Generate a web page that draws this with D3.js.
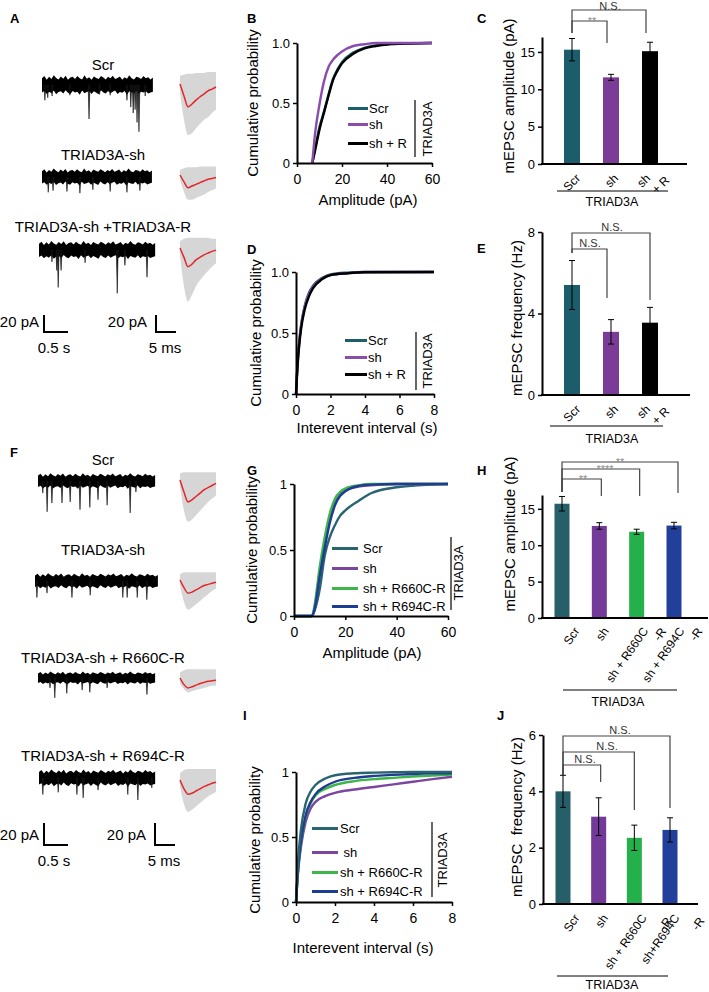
<!DOCTYPE html>
<html>
<head>
<meta charset="utf-8">
<script src="https://cdn.jsdelivr.net/npm/d3@7.9.0/dist/d3.min.js"></script>
<style>
body { margin: 0; background: #fff; }
svg { font-family: "Liberation Sans", Arial, Helvetica, sans-serif; }
.axis path, .axis line { stroke: #000; }
.axis path { stroke-width: 2; }
.axis line { stroke-width: 1.5; }
.axis text { fill: #000; font-family: "Liberation Sans", Arial, sans-serif; }
</style>
</head>
<body>
<svg id="fig" width="709" height="992"></svg>
<script>
// ---------- data ----------
// example traces (A, F): spike events [time s, amplitude pA]
const labelsA = ['Scr', 'TRIAD3A-sh', 'TRIAD3A-sh +TRIAD3A-R'];
const labelsF = ['Scr', 'TRIAD3A-sh', 'TRIAD3A-sh + R660C-R', 'TRIAD3A-sh + R694C-R'];
const durA = [2.31, 2.29, 2.42];
const durF = [2.44, 2.56, 2.44, 2.42];
const noiseA = [8.8, 7.6, 8.2];
const noiseF = [5.5, 5.5, 4.5, 6];
const spikesA = [
  [[0.06, 18], [0.12, 15], [0.21, 13], [0.58, 12], [0.98, 40], [1.2, 11], [1.42, 12], [1.77, 18], [1.85, 26], [1.9, 33], [1.94, 29], [1.98, 44], [2.02, 55], [2.15, 13]],
  [[0.13, 18], [0.23, 16], [0.52, 17], [0.79, 19], [1.06, 15], [1.42, 17], [1.77, 18], [2.04, 16]],
  [[0.27, 14], [0.37, 24], [0.4, 44], [0.46, 24], [0.96, 15], [1.63, 51], [1.79, 18], [2.25, 32]]
];
const spikesF = [
  [[0.1, 11], [0.19, 28], [0.29, 20], [0.5, 20], [0.67, 19], [0.875, 26], [1.08, 24], [1.25, 17], [1.44, 22], [1.92, 29], [2.04, 10]],
  [[0.04, 15], [0.25, 11], [0.77, 15], [1.15, 13], [1.83, 15], [1.92, 15], [2.13, 15], [2.33, 17]],
  [[0.25, 9], [0.35, 18], [0.6, 14], [0.92, 11], [1.08, 13], [1.44, 9], [2.27, 15]],
  [[0.08, 15], [0.4, 13], [0.79, 15], [0.92, 18], [1.23, 11], [1.85, 15], [2.06, 20], [2.35, 9]]
];
// baseline noise envelope (relative)
const noiseUp = [0.9,1.2,0.7,1.1,0.8,1.3,0.95,0.75,1.15,0.85,1.25,0.7,1.0,1.1,0.8,1.2,0.9,0.75,1.3,0.85,1.05,0.7,1.15,0.95,0.8,1.2,1.0,0.75,1.1,0.9,1.25,0.8,0.95,1.15,0.7,1.05,0.85,1.3,0.9,0.75,1.1,1.0,0.8,1.2,0.9,1.05,0.75,1.0];
const noiseDn = [1.0,0.8,1.2,0.9,1.1,0.75,1.25,0.95,0.85,1.15,0.7,1.05,1.2,0.8,1.0,0.9,1.3,0.75,1.1,0.95,0.8,1.2,0.85,1.05,1.25,0.7,1.0,1.15,0.8,1.1,0.9,0.75,1.2,0.95,1.05,0.8,1.3,0.85,1.0,1.1,0.75,1.2,0.9,1.0,0.85,1.15,1.0,0.9];

// averaged mEPSCs (ms, pA)
const avgT = [0, 1, 2, 3, 4, 5, 6, 7, 8, 9];
const avgMeanA = [
  [0, -14, -27, -23.5, -19, -15, -11.8, -8, -6, -3.5],
  [0, -8, -15, -13, -11, -9, -7, -5, -4, -3],
  [0, -11, -22, -19, -14, -11, -8, -6, -4, -2.5]
];
const avgHiA = [
  [10, 11, 12, 12, 13, 13, 13, 14, 14, 14],
  [6, 8, 9, 9, 9, 10, 10, 10, 10, 10],
  [8, 11, 12, 12, 12, 12, 12, 12, 11, 11]
];
const avgLoA = [
  [-10, -42, -60, -58, -52, -47, -42, -39, -34, -30],
  [-6, -20, -29, -29, -27, -25, -23, -20, -18, -16],
  [-8, -45, -63, -55, -45, -38, -32, -27, -22, -18]
];
const avgMeanF = [
  [0, -11, -20, -18, -15, -12, -9, -7, -5, -3],
  [0, -7, -12, -11, -9, -7, -5, -4, -3, -2],
  [0, -6, -9, -8, -6.5, -5, -4, -3, -2.5, -2],
  [0, -8, -13, -12, -10, -8, -6, -4.5, -3, -2]
];
const avgHiF = [
  [6, 7, 7, 7, 7, 7, 7, 7, 7, 7],
  [5, 7, 7, 7, 7, 7, 7, 7, 7, 7],
  [5, 7, 8, 8, 8, 8, 8, 8, 8, 8],
  [6, 9, 10, 10, 10, 10, 10, 10, 10, 10]
];
const avgLoF = [
  [-6, -28, -38, -36, -32, -28, -24, -20, -17, -14],
  [-5, -20, -27, -25, -22, -19, -16, -13, -10, -8],
  [-5, -10, -13, -12, -11, -10, -9, -8, -7, -7],
  [-6, -22, -29, -27, -24, -21, -18, -15, -13, -11]
];

// cumulative distributions
const ampB = [6.8, 8, 10, 12, 14, 16, 18, 20, 25, 30, 35, 40, 50, 60];
const bScr = [0, 0.12, 0.3, 0.43, 0.57, 0.7, 0.78, 0.84, 0.92, 0.96, 0.98, 0.99, 0.997, 1];
const bSh = [0, 0.24, 0.49, 0.68, 0.8, 0.86, 0.9, 0.93, 0.975, 0.99, 1, 1, 1, 1];
const bShR = [0, 0.1, 0.28, 0.42, 0.56, 0.69, 0.77, 0.83, 0.91, 0.955, 0.975, 0.988, 0.996, 1];

const intD = [0, 0.05, 0.1, 0.2, 0.3, 0.5, 0.75, 1, 1.5, 2, 3, 4, 8];
const dScr = [0, 0.15, 0.28, 0.45, 0.57, 0.72, 0.83, 0.89, 0.95, 0.98, 0.995, 1, 1];
const dSh = [0, 0.14, 0.27, 0.44, 0.56, 0.71, 0.82, 0.88, 0.945, 0.975, 0.99, 1, 1];
const dShR = [0, 0.13, 0.25, 0.42, 0.54, 0.69, 0.8, 0.87, 0.94, 0.975, 0.99, 0.998, 1];

const ampG = [0, 7, 8, 10, 12, 14, 16, 18, 20, 25, 30, 40, 50, 60];
const gScr = [0, 0, 0.04, 0.2, 0.46, 0.6, 0.69, 0.76, 0.8, 0.87, 0.93, 0.975, 0.992, 1];
const gSh = [0, 0, 0.06, 0.33, 0.55, 0.74, 0.86, 0.92, 0.95, 0.98, 0.99, 1, 1, 1];
const g660 = [0, 0, 0.08, 0.37, 0.6, 0.78, 0.89, 0.94, 0.965, 0.99, 1, 1, 1, 1];
const g694 = [0, 0, 0.05, 0.3, 0.52, 0.71, 0.84, 0.91, 0.945, 0.985, 0.995, 1, 1, 1];

const intI = [0, 0.1, 0.25, 0.5, 0.75, 1, 1.5, 2, 3, 4, 5, 6, 7, 8];
const iScr = [0, 0.3, 0.55, 0.76, 0.85, 0.9, 0.95, 0.975, 0.99, 0.995, 0.998, 1, 1, 1];
const iSh = [0, 0.22, 0.42, 0.62, 0.72, 0.77, 0.815, 0.84, 0.865, 0.885, 0.905, 0.925, 0.945, 0.963];
const i660 = [0, 0.23, 0.45, 0.66, 0.76, 0.82, 0.87, 0.9, 0.93, 0.945, 0.955, 0.965, 0.973, 0.98];
const i694 = [0, 0.24, 0.46, 0.67, 0.77, 0.83, 0.89, 0.925, 0.955, 0.97, 0.978, 0.985, 0.99, 0.99];

const legend3 = ['Scr', 'sh', 'sh + R'];
const legend4 = ['Scr', 'sh', 'sh + R660C-R', 'sh + R694C-R'];
const legend4I = ['Scr', ' sh', 'sh + R660C-R', 'sh + R694C-R'];

// bar charts
const cats3 = ['Scr', 'sh', 'shR'];
const cats4 = ['Scr', 'sh', 'R660C', 'R694C'];
const ampC = [15.3, 11.6, 15.1], ampCErr = [1.5, 0.4, 1.2];
const freqE = [5.4, 3.1, 3.55], freqEErr = [1.2, 0.6, 0.75];
const ampH = [15.7, 12.65, 11.85, 12.7], ampHErr = [1.0, 0.45, 0.35, 0.45];
const freqJ = [4.0, 3.1, 2.35, 2.63], freqJErr = [0.57, 0.67, 0.45, 0.43];
const ticksC = [0, 5, 10, 15], ticksE = [0, 4, 8], ticksH = [0, 5, 10, 15], ticksJ = [0, 2, 4, 6];
const xLab3 = [['Scr'], ['sh'], ['sh', '+ R']];
const xLabH = [['Scr'], ['sh'], ['sh + R660C', '-R'], ['sh + R694C', '-R']];
const xLabJ = [['Scr'], ['sh'], ['sh + R660C', '-R'], ['sh+R694C', '-R']];
const sigC = ['**', 'N.S.'];
const sigE = ['N.S.', 'N.S.'];
const sigH = ['**', '****', '**'];
const sigJ = ['N.S.', 'N.S.', 'N.S.'];

// ---------- drawing ----------
const svg = d3.select('#fig');
const teal = '#1d5e6c', teal2 = '#2a6470', purple = '#8a4dab', purple2 = '#7b46a0', green = '#3cb64b', blue = '#1f3c93';

function txt(x, y, s, size, o = {}) {
  return svg.append('text').attr('x', x).attr('y', y)
    .attr('font-size', size)
    .attr('text-anchor', o.anchor || 'start')
    .attr('font-weight', o.bold ? 'bold' : null)
    .attr('fill', o.fill || '#000')
    .style('white-space', 'pre')
    .attr('transform', o.rot ? `rotate(${o.rot},${x},${y})` : null)
    .text(s);
}

// panel letters
[['A', 10, 23], ['B', 247, 23], ['C', 477, 23], ['D', 247, 254], ['E', 477, 253],
 ['F', 10, 457], ['G', 247, 475], ['H', 477, 475], ['I', 243, 720], ['J', 497, 720]]
  .forEach(([l, x, y]) => txt(x, y, l, 13, { bold: true }));

// --- traces ---
const tSec = d3.scaleLinear().domain([0, 0.5]).range([0, 24]);
const tMs = d3.scaleLinear().domain([0, 5]).range([0, 20]);
const yA = d3.scaleLinear().domain([-20, 0]).range([17, 0]);
const yF = d3.scaleLinear().domain([-20, 0]).range([22, 0]);

function drawTrace(x0, base, dur, noise, spikes, yS) {
  const xi = d3.scaleLinear().domain([0, noiseUp.length - 1]).range([0, dur]);
  const area = d3.area()
    .x((d, i) => x0 + tSec(xi(i)))
    .y0((d, i) => base + yS(-noise * noiseDn[i]))
    .y1((d, i) => base + yS(noise * noiseUp[i]));
  svg.append('path').datum(noiseUp).attr('d', area).attr('fill', '#000');
  spikes.forEach(([t, a]) => {
    const x = x0 + tSec(t);
    svg.append('path')
      .attr('d', `M${x - 0.9},${base}L${x},${base + yS(-a)}L${x + 0.9},${base}Z`)
      .attr('fill', '#111').attr('stroke', '#111').attr('stroke-width', 0.6);
  });
}

function drawAvg(x0, base, mean, hi, lo, yS) {
  const band = d3.area().curve(d3.curveMonotoneX)
    .x((d, i) => x0 + tMs(avgT[i]))
    .y0((d, i) => base + yS(lo[i]))
    .y1((d, i) => base + yS(hi[i]));
  svg.append('path').datum(avgT).attr('d', band).attr('fill', '#d6d6d6');
  const line = d3.line().curve(d3.curveMonotoneX)
    .x((d, i) => x0 + tMs(avgT[i]))
    .y(d => base + yS(d));
  svg.append('path').datum(mean).attr('d', line)
    .attr('fill', 'none').attr('stroke', '#e3262b').attr('stroke-width', 1.5);
}

function scaleBars(x1, x2, y, yS) {
  const h = yS(-20);
  svg.append('path').attr('d', `M${x1},${y - h}V${y}H${x1 + tSec(0.5)}`)
    .attr('fill', 'none').attr('stroke', '#000').attr('stroke-width', 2);
  svg.append('path').attr('d', `M${x2},${y - h}V${y}H${x2 + tMs(5)}`)
    .attr('fill', 'none').attr('stroke', '#000').attr('stroke-width', 2);
  txt(x1 - 5, y - 5, '20 pA', 15, { anchor: 'end' });
  txt(x2 - 9, y - 5, '20 pA', 15, { anchor: 'end' });
  txt(x1 + 10, y + 21, '0.5 s', 15, { anchor: 'middle' });
  txt(x2 + 9, y + 21, '5 ms', 15, { anchor: 'middle' });
}

const rowsA = [{ x0: 42, base: 85, ab: 84, ly: 70 }, { x0: 42, base: 177, ab: 175, ly: 160 }, { x0: 39, base: 250, ab: 248, ly: 232 }];
rowsA.forEach((r, i) => {
  txt(103, r.ly, labelsA[i], 15, { anchor: 'middle' });
  drawTrace(r.x0, r.base, durA[i], noiseA[i], spikesA[i], yA);
  drawAvg(180, r.ab, avgMeanA[i], avgHiA[i], avgLoA[i], yA);
});
scaleBars(44, 156, 332, yA);

const rowsF = [{ x0: 38, base: 481, ab: 480, ly: 465 }, { x0: 35, base: 581, ab: 580, ly: 555 },
  { x0: 38, base: 678, ab: 678, ly: 663 }, { x0: 39, base: 778, ab: 780, ly: 761 }];
rowsF.forEach((r, i) => {
  txt(103, r.ly, labelsF[i], 15, { anchor: 'middle' });
  drawTrace(r.x0, r.base, durF[i], noiseF[i], spikesF[i], yF);
  drawAvg(180, r.ab, avgMeanF[i], avgHiF[i], avgLoF[i], yF);
});
scaleBars(44, 155, 845, yF);

// --- cumulative panels ---
function cdfPanel(o) {
  const x = d3.scaleLinear().domain(o.xDom).range(o.xR);
  const y = d3.scaleLinear().domain([0, 1]).range(o.yR);
  const line = d3.line().curve(d3.curveMonotoneX).x((d, j) => x(o.xs[j])).y(d => y(d));
  o.draw.forEach(i => {
    svg.append('path').datum(o.series[i]).attr('d', line)
      .attr('fill', 'none').attr('stroke', o.colors[i]).attr('stroke-width', 2.4);
  });
  const xa = svg.append('g').attr('class', 'axis').attr('transform', `translate(0,${o.yR[0]})`)
    .call(d3.axisBottom(x).tickValues(o.xTicks).tickFormat(d3.format('d')).tickSize(4).tickPadding(7).tickSizeOuter(0));
  xa.selectAll('text').attr('font-size', 14);
  const ya = svg.append('g').attr('class', 'axis').attr('transform', `translate(${o.xR[0]},0)`)
    .call(d3.axisLeft(y).tickValues([0, 0.5, 1]).tickFormat(o.yFmt).tickSize(4).tickPadding(3).tickSizeOuter(0));
  ya.selectAll('text').attr('font-size', 13);
  txt(o.xt[0], o.xt[1], o.xTitle, 15, { anchor: 'middle' });
  txt(o.yt[0], o.yt[1], 'Cumulative probability', 15, { anchor: 'middle', rot: -90 });
  o.legend.forEach((l, i) => {
    const yy = o.lg.rows[i];
    svg.append('line').attr('x1', o.lg.x1).attr('x2', o.lg.x2).attr('y1', yy - 4.5).attr('y2', yy - 4.5)
      .attr('stroke', o.colors[i]).attr('stroke-width', 3);
    txt(o.lg.tx, yy, l, 13);
  });
  svg.append('line').attr('x1', o.bar[0]).attr('x2', o.bar[0]).attr('y1', o.bar[1]).attr('y2', o.bar[2])
    .attr('stroke', '#000').attr('stroke-width', 1.2);
  txt(o.tri[0], o.tri[1], 'TRIAD3A', 13, { anchor: 'middle', rot: -90 });
}

const fmt1 = d => d === 0 ? '0' : d3.format('.1f')(d);
const fmt2 = d => d === 0.5 ? '0.5' : String(d);

cdfPanel({ xs: ampB, xDom: [0, 60], xR: [297, 432], yR: [163, 43], xTicks: [0, 20, 40, 60], yFmt: fmt1,
  series: [bScr, bSh, bShR], draw: [0, 2, 1], colors: [teal, purple, '#000'], legend: legend3,
  xTitle: 'Amplitude (pA)', xt: [368, 205], yt: [258, 103],
  lg: { rows: [113, 129, 148], x1: 348, x2: 368, tx: 369 }, bar: [415, 100, 157], tri: [432, 129] });

cdfPanel({ xs: intD, xDom: [0, 8], xR: [296, 434], yR: [394, 272], xTicks: [0, 2, 4, 6, 8], yFmt: fmt1,
  series: [dScr, dSh, dShR], draw: [0, 1, 2], colors: [teal, purple, '#000'], legend: legend3,
  xTitle: 'Interevent interval (s)', xt: [367, 433], yt: [261, 333],
  lg: { rows: [345, 362, 379], x1: 345, x2: 367, tx: 368 }, bar: [416, 332, 390], tri: [432, 361] });

cdfPanel({ xs: ampG, xDom: [0, 60], xR: [294, 448], yR: [616, 484], xTicks: [0, 20, 40, 60], yFmt: fmt2,
  series: [gScr, gSh, g660, g694], draw: [0, 1, 2, 3], colors: [teal2, purple2, green, blue], legend: legend4,
  xTitle: 'Amplitude (pA)', xt: [372, 658], yt: [257, 550],
  lg: { rows: [553, 573, 593, 611], x1: 332, x2: 358, tx: 363 }, bar: [451, 537, 610], tri: [463, 573] });

cdfPanel({ xs: intI, xDom: [0, 8], xR: [296, 452], yR: [902, 772], xTicks: [0, 2, 4, 6, 8], yFmt: fmt2,
  series: [iScr, iSh, i660, i694], draw: [1, 2, 3, 0], colors: [teal2, purple2, green, blue], legend: legend4I,
  xTitle: 'Interevent interval (s)', xt: [363, 953], yt: [260, 840],
  lg: { rows: [833, 857, 877, 896], x1: 312, x2: 338, tx: 340 }, bar: [432, 822, 897], tri: [447, 860] });

// --- bar panels ---
function barPanel(o) {
  const x = d3.scalePoint().domain(o.cats).range(o.xR);
  const y = d3.scaleLinear().domain(o.yDom).range(o.yR);
  o.cats.forEach((c, i) => {
    const cx = x(c), v = o.vals[i], e = o.errs[i];
    svg.append('rect').attr('x', cx - o.bw / 2).attr('y', y(v)).attr('width', o.bw)
      .attr('height', y(0) - y(v)).attr('fill', o.colors[i]);
    svg.append('path')
      .attr('d', `M${cx},${y(v - e)}V${y(v + e)}M${cx - 3},${y(v + e)}H${cx + 3}M${cx - 3},${y(v - e)}H${cx + 3}`)
      .attr('stroke', '#000').attr('stroke-width', 1).attr('fill', 'none');
  });
  const ya = svg.append('g').attr('class', 'axis').attr('transform', `translate(${o.ax},0)`)
    .call(d3.axisLeft(y).tickValues(o.ticks).tickFormat(d3.format('d')).tickSize(4).tickPadding(3).tickSizeOuter(0));
  ya.selectAll('text').attr('font-size', 13);
  svg.append('line').attr('x1', o.ax - 1).attr('x2', o.axEnd).attr('y1', y(0)).attr('y2', y(0))
    .attr('stroke', '#000').attr('stroke-width', 2);
  txt(o.yt[0], o.yt[1], o.yTitle, 15, { anchor: 'middle', rot: -90 });
  // rotated category labels
  o.labels.forEach((ls, i) => {
    const px = x(o.cats[i]) + o.lab.dx[i], py = y(0) + o.lab.dy;
    const g = svg.append('g').attr('transform', `translate(${px},${py}) rotate(${-o.lab.ang})`);
    ls.forEach((s, k) => {
      g.append('text').attr('x', k ? o.lab.l2[0] : 0).attr('y', k ? o.lab.l2[1] : 0)
        .attr('text-anchor', 'end').attr('font-size', 12).text(s);
    });
  });
  svg.append('line').attr('x1', o.ul[0]).attr('x2', o.ul[1]).attr('y1', o.ul[2]).attr('y2', o.ul[2])
    .attr('stroke', '#000').attr('stroke-width', 1);
  txt(o.tri[0], o.tri[1], 'TRIAD3A', 12.5, { anchor: 'middle' });
  // significance brackets
  const x0 = x(o.cats[0]);
  o.br.forEach((b, i) => {
    const xb = x(o.cats[i + 1]) + b.dx;
    svg.append('path').attr('d', `M${x0},${o.legL}V${b.top}H${xb}V${b.leg}`)
      .attr('fill', 'none').attr('stroke', '#444').attr('stroke-width', 1.2);
    const star = o.sig[i].startsWith('*');
    txt(b.lx, b.ly !== undefined ? b.ly : b.top + (star ? 3.5 : -2.5), o.sig[i], 11,
      { anchor: 'middle', fill: star ? '#8a8a8a' : '#333' });
  });
}

barPanel({ cats: cats3, vals: ampC, errs: ampCErr, colors: ['#1b5d6b', '#7b3c98', '#000'],
  xR: [572, 650], bw: 16, yDom: [0, 17], yR: [164, 37], ticks: ticksC, ax: 542, axEnd: 687,
  yTitle: 'mEPSC amplitude (pA)', yt: [514, 96], labels: xLab3,
  lab: { ang: 45, dx: [9, 8, 1], dy: 15, l2: [12, 15] },
  ul: [557, 668, 191], tri: [612, 206], sig: sigC, legL: 33,
  br: [{ dx: -4, top: 21, leg: 43, lx: 592 }, { dx: -4, top: 10, leg: 33, lx: 610, ly: 9.5 }] });

barPanel({ cats: cats3, vals: freqE, errs: freqEErr, colors: ['#1b5d6b', '#7b3c98', '#000'],
  xR: [572, 650], bw: 16, yDom: [0, 8], yR: [395, 232], ticks: ticksE, ax: 542, axEnd: 690,
  yTitle: 'mEPSC frequency (Hz)', yt: [522, 318], labels: xLab3,
  lab: { ang: 45, dx: [9, 8, 1], dy: 15, l2: [12, 15] },
  ul: [550, 663, 426], tri: [612, 443], sig: sigE, legL: 253,
  br: [{ dx: -4, top: 249, leg: 298, lx: 590 }, { dx: 0, top: 233, leg: 300, lx: 612 }] });

barPanel({ cats: cats4, vals: ampH, errs: ampHErr, colors: ['#265e6a', '#733a9a', '#24b04a', '#22409b'],
  xR: [562, 674], bw: 15, yDom: [0, 16.9], yR: [618, 495], ticks: ticksH, ax: 542, axEnd: 708,
  yTitle: 'mEPSC amplitude (pA)', yt: [515, 534], labels: xLabH,
  lab: { ang: 55, dx: [18, 10, 12, 11], dy: 13, l2: [10, 15] },
  ul: [563, 677, 690], tri: [618, 706], sig: sigH, legL: 492,
  br: [{ dx: 2, top: 479, leg: 496, lx: 583 }, { dx: 3, top: 469, leg: 496, lx: 605 }, { dx: 4, top: 462, leg: 493, lx: 620 }] });

barPanel({ cats: cats4, vals: freqJ, errs: freqJErr, colors: ['#265e6a', '#733a9a', '#24b04a', '#22409b'],
  xR: [563, 670], bw: 15, yDom: [0, 6], yR: [904, 735], ticks: ticksJ, ax: 543, axEnd: 698,
  yTitle: 'mEPSC  frequency (Hz)', yt: [522, 817], labels: xLabJ,
  lab: { ang: 55, dx: [17, 10, 13, 10], dy: 14, l2: [12, 22] },
  ul: [557, 668, 976], tri: [612, 989], sig: sigJ, legL: 775,
  br: [{ dx: 2, top: 765, leg: 782, lx: 585 }, { dx: 0, top: 752, leg: 810, lx: 607 }, { dx: 0, top: 736, leg: 808, lx: 620 }] });
</script>
</body>
</html>
